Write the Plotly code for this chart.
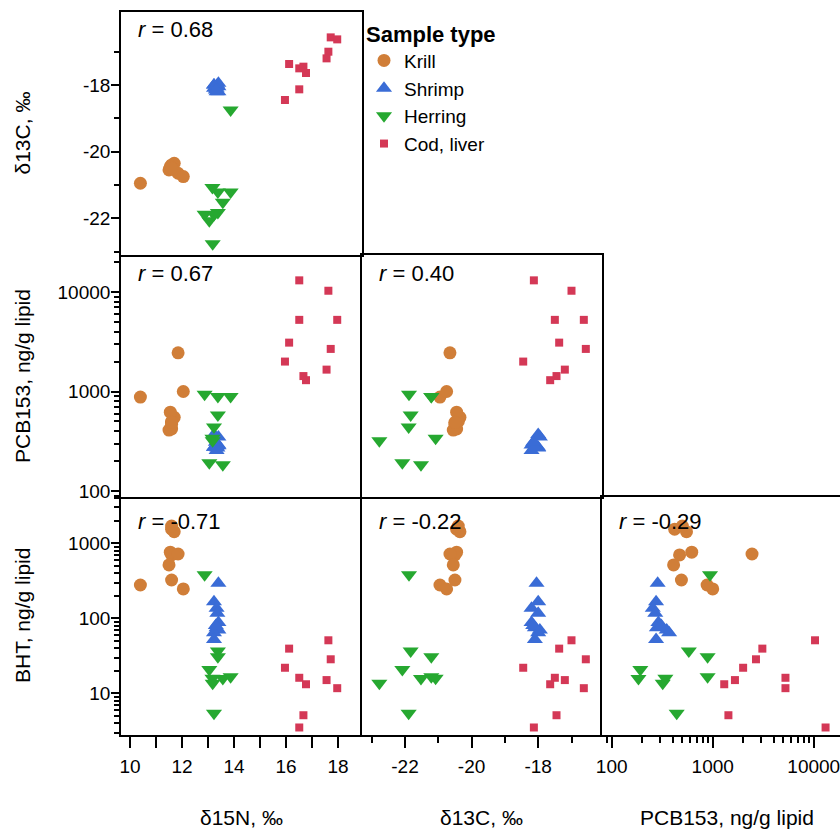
import plotly.graph_objects as go

# ---------------- data (per sample) ----------------
species = ["Krill", "Shrimp", "Herring", "Cod, liver"]

krill_d15n = [11.6, 11.7, 11.6, 11.6, 11.55, 11.85, 11.5, 11.6, 10.4, 12.05]
krill_d13c = [-20.45, -20.35, -20.4, -20.5, -20.45, -20.65, -20.55, -20.5, -20.95, -20.75]
krill_pcb = [420, 550, 500, 470, 620, 2450, 410, 490, 880, 1000]
krill_bht = [1540, 1430, 1700, 700, 760, 720, 514, 324, 278, 246]

shrimp_d15n = [13.40, 13.23, 13.33, 13.36, 13.40, 13.33, 13.40, 13.23, 13.23, 13.30]
shrimp_d13c = [-18.05, -18.0, -18.2, -18.0, -18.2, -18.1, -17.95, -18.0, -18.1, -18.15]
shrimp_pcb = [285, 275, 255, 270, 290, 280, 350, 370, 275, 310]
shrimp_bht = [293, 166, 136, 117, 88, 75, 70, 64, 52, 80]

herring_d15n = [12.87, 13.38, 13.38, 13.87, 13.05, 13.57, 13.17, 13.18, 13.23, 13.87]
herring_d13c = [-21.88, -21.83, -21.21, -21.21, -22.08, -21.52, -21.08, -22.77, -21.89, -18.75]
herring_pcb = [940, 580, 890, 890, 192, 184, 340, 320, 440, None]
herring_bht = [382, 36.6, 30.8, 16.6, 20.7, 15.7, 15.9, 13.6, 5.4, None]

cod_d15n = [17.72, 17.97, 17.63, 17.56, 16.12, 16.51, 16.67, 16.77, 16.51, 15.96]
cod_d13c = [-16.57, -16.63, -17.0, -17.2, -17.37, -17.5, -17.45, -17.64, -18.13, -18.45]
cod_pcb = [2680, 5250, 10300, 1660, 3100, 5250, 1430, 1300, 13100, 2000]
cod_bht = [28.4, 11.7, 50.9, 15.0, 39.4, 16.1, 5.1, 13.2, 3.5, 21.9]

r_values = {("d13c", "d15n"): "0.68", ("pcb", "d15n"): "0.67", ("pcb", "d13c"): "0.40",
            ("bht", "d15n"): "-0.71", ("bht", "d13c"): "-0.22", ("bht", "pcb"): "-0.29"}

var_titles = {"d15n": "δ15N, ‰", "d13c": "δ13C, ‰",
              "pcb": "PCB153, ng/g lipid", "bht": "BHT, ng/g lipid"}

# ---------------- assemble ----------------
data = {
    "Krill": dict(d15n=krill_d15n, d13c=krill_d13c, pcb=krill_pcb, bht=krill_bht),
    "Shrimp": dict(d15n=shrimp_d15n, d13c=shrimp_d13c, pcb=shrimp_pcb, bht=shrimp_bht),
    "Herring": dict(d15n=herring_d15n, d13c=herring_d13c, pcb=herring_pcb, bht=herring_bht),
    "Cod, liver": dict(d15n=cod_d15n, d13c=cod_d13c, pcb=cod_pcb, bht=cod_bht),
}
style = {
    "Krill": dict(symbol="circle", size=13, color="rgb(208,126,56)"),
    "Shrimp": dict(symbol="triangle-up", size=14, color="rgb(58,108,214)"),
    "Herring": dict(symbol="triangle-down", size=14, color="rgb(38,168,48)"),
    "Cod, liver": dict(symbol="square", size=8, color="rgb(212,56,86)"),
}

W, H = 840, 831
def px(x):
    return x / W
def py(y):
    return 1 - y / H

col_px = [(121, 362), (362, 602), (602, 840)]
row_px = [(12, 255), (255, 497), (497, 735)]
col_vars = ["d15n", "d13c", "pcb"]
row_vars = ["d13c", "pcb", "bht"]

FONT = "Liberation Sans, Arial, Helvetica, sans-serif"
TICKF = dict(family=FONT, size=19, color="black")

def log_minor(lo, hi):
    out = []
    for e in range(lo, hi + 1):
        for m in range(2, 10):
            out.append(m * 10 ** e)
    return out

xcfg = {
    "d15n": dict(type="linear", range=[9.654, 18.923], tickvals=list(range(10, 19)),
                 ticktext=["10", "", "12", "", "14", "", "16", "", "18"], minor=None),
    "d13c": dict(type="linear", range=[-23.291, -16.084], tickvals=[-22, -20, -18],
                 ticktext=["-22", "-20", "-18"], minor=[-23, -21, -19, -17]),
    "pcb": dict(type="log", range=[1.904, 4.26], tickvals=[100, 1000, 10000],
                ticktext=["100", "1000", "10000"], minor=log_minor(1, 4)),
}
ycfg = {
    "d13c": dict(type="linear", range=[-23.105, -15.808], tickvals=[-18, -20, -22],
                 ticktext=["-18", "-20", "-22"], minor=[-17, -19, -21, -23]),
    "pcb": dict(type="log", range=[1.94, 4.372], tickvals=[100, 1000, 10000],
                ticktext=["100", "1000", "10000"], minor=log_minor(1, 4)),
    "bht": dict(type="log", range=[0.444, 3.617], tickvals=[10, 100, 1000],
                ticktext=["10", "100", "1000"], minor=log_minor(0, 3)),
}

panels = [(0, 0), (1, 0), (1, 1), (2, 0), (2, 1), (2, 2)]
panel_set = set(panels)

fig = go.Figure()
layout = {}
annotations = []
LW = 1.6

for k, (ri, ci) in enumerate(panels):
    idx = "" if k == 0 else str(k + 1)
    xa, ya = "x" + idx, "y" + idx
    xv, yv = col_vars[ci], row_vars[ri]
    for sp in species:
        st = style[sp]
        fig.add_trace(go.Scatter(
            x=data[sp][xv], y=data[sp][yv], mode="markers", name=sp,
            legendgroup=sp, showlegend=(k == 0), xaxis=xa, yaxis=ya,
            marker=dict(symbol=st["symbol"], size=st["size"], color=st["color"],
                        line=dict(width=0)),
            cliponaxis=True))
    xc, yc = xcfg[xv], ycfg[yv]
    bottom = ri == 2
    left = ci == 0
    top_free = (ri - 1, ci) not in panel_set
    right_free = (ri, ci + 1) not in panel_set and ci < 2
    xaxis = dict(domain=[px(col_px[ci][0]), px(col_px[ci][1])], anchor=ya,
                 type=xc["type"], range=xc["range"], showgrid=False, zeroline=False,
                 automargin=False, ticklabeloverflow="allow", ticklabelstandoff=2,
                 showline=True, linecolor="black", linewidth=LW, mirror=top_free,
                 ticks="outside" if bottom else "", ticklen=11, tickwidth=1.5,
                 tickcolor="black",
                 showticklabels=bottom, tickmode="array", tickvals=xc["tickvals"],
                 ticktext=xc["ticktext"], tickfont=TICKF)
    if bottom and xc["minor"] is not None:
        xaxis["minor"] = dict(tickmode="array", tickvals=xc["minor"], ticks="outside",
                              ticklen=6, tickwidth=1.5, tickcolor="black", showgrid=False)
    yaxis = dict(domain=[py(row_px[ri][1]), py(row_px[ri][0])], anchor=xa,
                 type=yc["type"], range=yc["range"], showgrid=False, zeroline=False,
                 automargin=False, ticklabeloverflow="allow", ticklabelstandoff=-3,
                 showline=True, linecolor="black", linewidth=LW,
                 mirror=right_free,
                 ticks="outside" if left else "", ticklen=8, tickwidth=1.5,
                 tickcolor="black",
                 showticklabels=left, tickmode="array", tickvals=yc["tickvals"],
                 ticktext=yc["ticktext"], tickfont=TICKF)
    if left and yc["minor"] is not None:
        yaxis["minor"] = dict(tickmode="array", tickvals=yc["minor"], ticks="outside",
                              ticklen=5, tickwidth=1.5, tickcolor="black", showgrid=False)
    layout["xaxis" + idx] = xaxis
    layout["yaxis" + idx] = yaxis

    # correlation label
    top_off = 24 if ri == 2 else 18
    annotations.append(dict(
        text="<i>r</i> = " + r_values[(yv, xv)], xref="paper", yref="paper",
        x=px(col_px[ci][0] + 15), y=py(row_px[ri][0] + top_off),
        xanchor="left", yanchor="middle", showarrow=False,
        font=dict(family=FONT, size=22, color="black")))

# axis titles
for ri, yv in enumerate(row_vars):
    annotations.append(dict(text=var_titles[yv], xref="paper", yref="paper",
                            x=px(22), y=py((row_px[ri][0] + row_px[ri][1]) / 2),
                            textangle=-90, showarrow=False, xanchor="center", yanchor="middle",
                            font=dict(family=FONT, size=21, color="black")))
for ci, xv in enumerate(col_vars):
    cx = (col_px[ci][0] + col_px[ci][1]) / 2
    if ci == 2:
        cx = 727
    annotations.append(dict(text=var_titles[xv], xref="paper", yref="paper",
                            x=px(cx), y=py(817), showarrow=False,
                            xanchor="center", yanchor="middle",
                            font=dict(family=FONT, size=21, color="black")))

fig.update_layout(
    **layout,
    width=W, height=H,
    margin=dict(l=0, r=0, t=0, b=0, autoexpand=False),
    paper_bgcolor="white", plot_bgcolor="white",
    font=dict(family=FONT, size=20, color="black"),
    annotations=annotations,
    showlegend=True,
    legend=dict(x=px(364), y=py(13), xanchor="left", yanchor="top",
                bgcolor="rgba(0,0,0,0)", borderwidth=0,
                title=dict(text="<b>Sample type</b>", font=dict(family=FONT, size=22)),
                font=dict(family=FONT, size=19, color="black"),
                itemsizing="trace", tracegroupgap=0),
)

fig.write_html("out.html", config={"displayModeBar": False},
               post_script="document.body.style.margin='0px';document.body.style.padding='0px';")
